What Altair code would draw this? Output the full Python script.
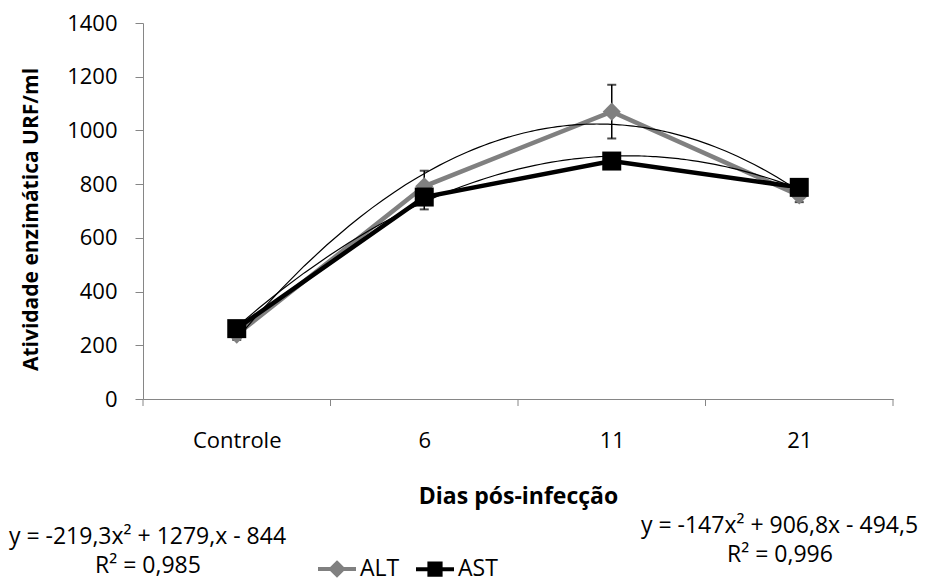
import altair as alt
import pandas as pd

categories = ["Controle", "6", "11", "21"]
day_index = [1, 2, 3, 4]
alt_values = [240, 792, 1070, 758]
ast_values = [262, 752, 886, 788]
alt_errors = [20, 58, 100, 25]
ast_errors = [20, 46, 20, 20]
series_names = ["ALT", "AST"]
series_colors = ["#808080", "#000000"]
y_tick_values = [0, 200, 400, 600, 800, 1000, 1200, 1400]
category_edges = [0.5, 1.5, 2.5, 3.5, 4.5]
eq_alt = "y = -219,3x² + 1279,x - 844"
r2_alt = "R² = 0,985"
eq_ast = "y = -147x² + 906,8x - 494,5"
r2_ast = "R² = 0,996"
x_title = "Dias pós-infecção"
y_title = "Atividade enzimática URF/ml"

rows = []
for name, vals, errs in [("ALT", alt_values, alt_errors), ("AST", ast_values, ast_errors)]:
    for i, v, e in zip(day_index, vals, errs):
        rows.append({"series": name, "x": i, "value": v, "lo": v - e, "hi": v + e})
df = pd.DataFrame(rows)

FONT = "Open Sans"
W, H = 750, 376
AXIS_GRAY = "#868686"

label_expr = "[" + ",".join(f"'{c}'" for c in categories) + "][datum.value - 1]"

xscale = alt.Scale(domain=[category_edges[0], category_edges[-1]], nice=False, zero=False)
yscale = alt.Scale(domain=[y_tick_values[0], y_tick_values[-1]], nice=False)

x_axis = alt.Axis(values=day_index, labelExpr=label_expr, ticks=False, tickSize=0, grid=False,
                  domainColor=AXIS_GRAY, labelPadding=31, labelFont=FONT, labelFontSize=22,
                  labelColor="black", title=x_title, titleFont=FONT, titleFontSize=23,
                  titleFontWeight="bold", titleColor="black", titleY=97, titleBaseline="middle")
y_axis = alt.Axis(values=y_tick_values, format="d", grid=False, tickSize=8, tickColor=AXIS_GRAY,
                  domainColor=AXIS_GRAY, labelPadding=18, labelFont=FONT, labelFontSize=22,
                  labelColor="black", title=y_title, titleFont=FONT, titleFontSize=21,
                  titleFontWeight="bold", titleColor="black", titleX=-112, titleY=H / 2 + 8,
                  titleBaseline="middle", titleAlign="center")


def X(field="x"):
    return alt.X(f"{field}:Q", scale=xscale, axis=x_axis)


def Y(field="value"):
    return alt.Y(f"{field}:Q", scale=yscale, axis=y_axis)


base = alt.Chart(df)

err_rule = base.mark_rule(color="black", strokeWidth=1.5).encode(x=X(), y=Y("lo"), y2=alt.Y2("hi:Q"))
cap_lo = base.mark_tick(orient="horizontal", color="black", size=9, thickness=2).encode(x=X(), y=Y("lo"))
cap_hi = base.mark_tick(orient="horizontal", color="black", size=9, thickness=2).encode(x=X(), y=Y("hi"))

edge_ticks = alt.Chart(pd.DataFrame({"edge": category_edges})).mark_rule(
    color=AXIS_GRAY, strokeWidth=1).encode(x=X("edge"), y=alt.value(H), y2=alt.value(H + 7))

line_alt = base.transform_filter(alt.datum.series == "ALT").mark_line(
    color=series_colors[0], strokeWidth=4.5).encode(x=X(), y=Y())
line_ast = base.transform_filter(alt.datum.series == "AST").mark_line(
    color=series_colors[1], strokeWidth=4.5).encode(x=X(), y=Y())

trend = base.transform_regression("x", "value", method="poly", order=2, groupby=["series"],
                                  extent=[1, 4]).mark_line(color="black", strokeWidth=1.2).encode(
    x=X(), y=Y(), detail="series:N")

pts_alt = base.transform_filter(alt.datum.series == "ALT").mark_point(
    shape="diamond", filled=True, size=330, color=series_colors[0], opacity=1).encode(x=X(), y=Y())
pts_ast = base.transform_filter(alt.datum.series == "AST").mark_point(
    shape="square", filled=True, size=361, color=series_colors[1], opacity=1).encode(x=X(), y=Y())

path_alt = "M-0.95,0L0.95,0M0,-0.3L0.3,0L0,0.3L-0.3,0ZM0,-0.15L0.15,0L0,0.15L-0.15,0Z"
path_ast = "M-0.95,0L0.95,0M-0.28,-0.28L0.28,-0.28L0.28,0.28L-0.28,0.28ZM-0.14,-0.14L0.14,-0.14L0.14,0.14L-0.14,0.14Z"

legend = alt.Legend(orient="none", legendX=172, legendY=524, direction="horizontal", title=None,
                    labelFont=FONT, labelFontSize=23, labelColor="black", symbolSize=1600,
                    symbolStrokeWidth=4, symbolOpacity=1, labelOffset=1, columnPadding=8, padding=0)

legend_layer = base.mark_point(filled=False, strokeWidth=4, opacity=0).encode(
    x=X(), y=Y(),
    color=alt.Color("series:N", scale=alt.Scale(domain=series_names, range=series_colors), legend=legend),
    shape=alt.Shape("series:N", scale=alt.Scale(domain=series_names, range=[path_alt, path_ast]), legend=legend),
)


def text_layer(txt, px, py):
    return alt.Chart(pd.DataFrame({"t": [txt]})).mark_text(
        font=FONT, fontSize=23, color="black", align="center", baseline="middle").encode(
        text="t:N", x=alt.value(px), y=alt.value(py))


texts = [
    text_layer(eq_alt, 4.5, 514),
    text_layer(r2_alt, 5, 543),
    text_layer(eq_ast, 636.5, 503),
    text_layer(r2_ast, 637, 532),
]

chart = alt.layer(err_rule, cap_lo, cap_hi, edge_ticks, line_alt, line_ast, trend, pts_alt, pts_ast,
                  legend_layer, *texts).properties(
    width=W, height=H,
    padding={"left": 143, "top": 23, "right": 32, "bottom": 183},
    autosize=alt.AutoSizeParams(type="none"),
    background="white",
).configure_view(stroke=None)

chart.save("out.html", embed_options={"renderer": "svg", "actions": False})
